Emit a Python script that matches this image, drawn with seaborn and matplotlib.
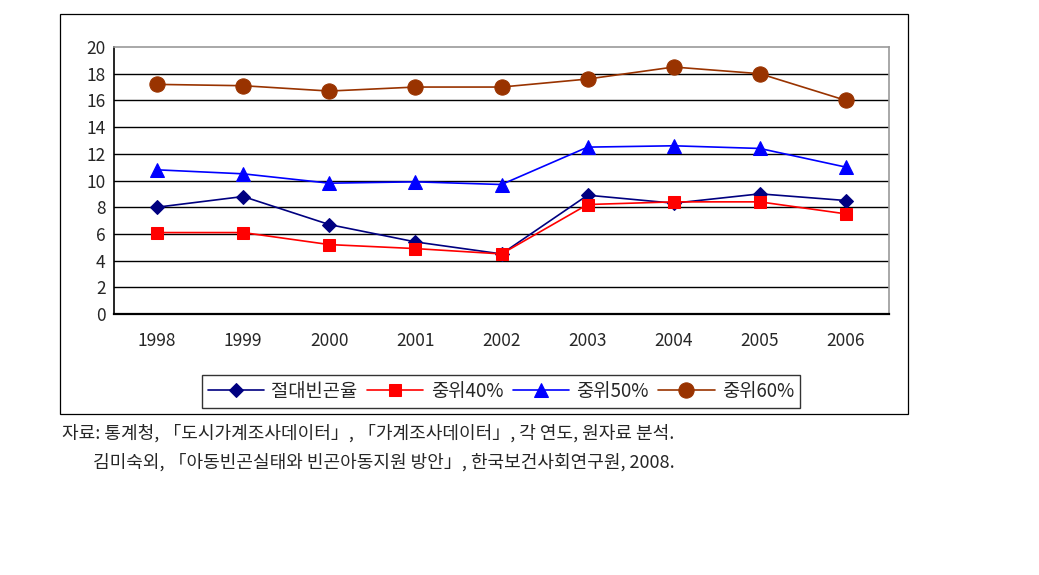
import matplotlib
matplotlib.use("Agg")
import matplotlib.pyplot as plt
import seaborn as sns
import pandas as pd
from matplotlib.patches import Rectangle

years = ["1998", "1999", "2000", "2001", "2002", "2003", "2004", "2005", "2006"]
absolute_poverty = [8.0, 8.8, 6.7, 5.4, 4.5, 8.9, 8.3, 9.0, 8.5]
median40 = [6.1, 6.1, 5.2, 4.9, 4.5, 8.2, 8.4, 8.4, 7.5]
median50 = [10.8, 10.5, 9.8, 9.9, 9.7, 12.5, 12.6, 12.4, 11.0]
median60 = [17.2, 17.1, 16.7, 17.0, 17.0, 17.6, 18.5, 18.0, 16.0]
series_names = ["절대빈곤율", "중위40%", "중위50%", "중위60%"]
y_ticks = [0, 2, 4, 6, 8, 10, 12, 14, 16, 18, 20]

sns.set_style("white")
plt.rcParams['font.family'] = ['Noto Sans CJK KR', 'DejaVu Sans']

W, H = 1039, 575
fig = plt.figure(figsize=(W / 100, H / 100), dpi=100)

# outer frame
fig.patches.append(Rectangle((60 / W, 1 - 414 / H), 848 / W, 400 / H,
                             transform=fig.transFigure, fill=False,
                             edgecolor='black', linewidth=0.9))

ax = fig.add_axes([114 / W, 1 - 314 / H, 775 / W, 267 / H])

df = pd.DataFrame({
    "year": years * 4,
    "value": absolute_poverty + median40 + median50 + median60,
    "series": sum([[n] * len(years) for n in series_names], []),
})

styles = {
    "절대빈곤율": dict(color="#000080", marker="D", ms=7.5),
    "중위40%": dict(color="#FF0000", marker="s", ms=8.5),
    "중위50%": dict(color="#0000FF", marker="^", ms=9.5),
    "중위60%": dict(color="#993300", marker="o", ms=11),
}

for name in series_names:
    st = styles[name]
    sub = df[df.series == name]
    sns.lineplot(data=sub, x="year", y="value", ax=ax, color=st["color"],
                 marker=st["marker"], markersize=st["ms"],
                 markeredgecolor=st["color"], markerfacecolor=st["color"],
                 linewidth=1.2, label=name, legend=False, sort=False)

ax.set_xlim(-0.5, 8.5)
ax.set_ylim(0, 20)
ax.set_yticks(y_ticks)
ax.set_yticklabels([str(t) for t in y_ticks], fontsize=12.5)
ax.set_xticks(range(len(years)))
ax.set_xticklabels(years, fontsize=12.5)
ax.set_xticks([i + 0.5 for i in range(len(years) - 1)], minor=True)
ax.tick_params(axis='x', which='major', length=0, pad=13)
ax.tick_params(axis='x', which='minor', length=5, direction='in', color='black')
ax.tick_params(axis='y', which='major', length=4, direction='in', color='black', pad=6)
ax.set_xlabel("")
ax.set_ylabel("")

for t in y_ticks[1:-1]:
    ax.axhline(t, color='black', linewidth=1.0, zorder=0.5)

ax.spines['left'].set_color('black')
ax.spines['left'].set_linewidth(1.2)
ax.spines['bottom'].set_color('black')
ax.spines['bottom'].set_linewidth(1.6)
ax.spines['top'].set_color('#999999')
ax.spines['top'].set_linewidth(1.2)
ax.spines['right'].set_color('#999999')
ax.spines['right'].set_linewidth(1.2)

handles, labels = ax.get_legend_handles_labels()
leg = fig.legend(handles, labels, loc='center', ncol=4,
                 bbox_to_anchor=(501 / W, 1 - 391.5 / H),
                 frameon=True, fancybox=False, edgecolor='black',
                 fontsize=13.5, handlelength=3.0, columnspacing=0.5,
                 handletextpad=0.4, borderpad=0.3, borderaxespad=0)
leg.get_frame().set_linewidth(1.0)

fig.text(62 / W, 1 - 433 / H,
         "자료: 통계청, 「도시가계조사데이터」, 「가계조사데이터」, 각 연도, 원자료 분석.",
         fontsize=13, va='center', ha='left')
fig.text(93 / W, 1 - 462 / H,
         "김미숙외, 「아동빈곤실태와 빈곤아동지원 방안」, 한국보건사회연구원, 2008.",
         fontsize=13, va='center', ha='left')

fig.savefig("out.png", dpi=100)
